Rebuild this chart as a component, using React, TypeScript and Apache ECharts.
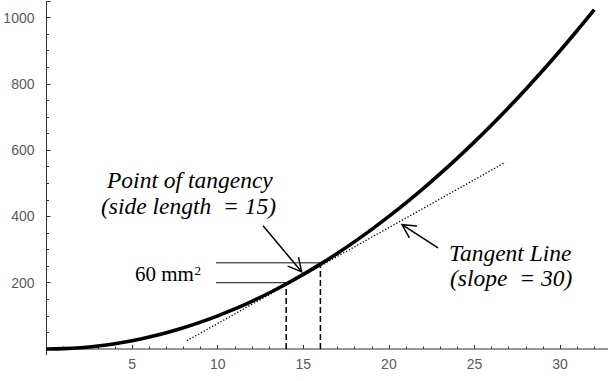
import React, { useEffect, useRef } from "react";
import * as echarts from "echarts";

// Side length of a square (x) and its area (y)
const sideLengths = [0, 1, 2, 3, 4, 5, 6, 7, 8, 9, 10, 11, 12, 13, 14, 15, 16, 17, 18, 19, 20, 21, 22, 23, 24, 25, 26, 27, 28, 29, 30, 31, 32];
const squareAreas = [0, 1, 4, 9, 16, 25, 36, 49, 64, 81, 100, 121, 144, 169, 196, 225, 256, 289, 324, 361, 400, 441, 484, 529, 576, 625, 676, 729, 784, 841, 900, 961, 1024];

// Tangent line at side length 15 (dotted), endpoints
const tangentX = [8.2, 26.8];
const tangentY = [25, 563];

// Dashed verticals at side lengths 14 and 16
const dropSides = [14, 16];
const dropAreas = [196, 256];

// Horizontal marker lines ("60 mm²" difference)
const levelStartX = 9.9;
const levelValues = [200, 260];
const levelEndX = [14, 16];

// Axis ticks / labels
const xMajorStep = 5;
const xMinorStep = 1;
const yMajorStep = 200;
const yMinorStep = 50;
const xTickLabels = [5, 10, 15, 20, 25, 30];
const yTickLabels = [200, 400, 600, 800, 1000];

// Axis line extents (data units)
const xAxisExtent = [-0.9, 32.8];
const yAxisExtent = [-18, 1050];

// Annotation arrows in data coordinates: [tail, tip]
const arrows = [
  { tail: [12.65, 372], tip: [14.9, 233] },
  { tail: [22.87, 305], tip: [20.77, 375] },
];

const AXIS_COLOR = "#333";
const LABEL_COLOR = "#5a5a5a";
const SERIF = '"Liberation Serif", "Times New Roman", serif';
const SANS = '"Liberation Sans", Arial, sans-serif';

export default function App() {
  const ref = useRef<HTMLDivElement>(null);

  useEffect(() => {
    document.body.style.margin = "0";
    if (!ref.current) return;
    const chart = echarts.init(ref.current, undefined, { renderer: "svg" });

    const xMin = 0;
    const xMax = xAxisExtent[1];
    const yMin = 0;
    const yMax = yAxisExtent[1];

    const baseX = {
      type: "value",
      min: xMin,
      max: xMax,
      position: "bottom",
      axisLine: { show: false, onZero: false },
      splitLine: { show: false },
    };
    const baseY = {
      type: "value",
      min: yMin,
      max: yMax,
      position: "left",
      axisLine: { show: false, onZero: false },
      splitLine: { show: false },
    };

    const lineSeries = (data: any[], style: any, z = 2) => ({
      type: "line",
      data,
      symbol: "none",
      silent: true,
      clip: false,
      z,
      lineStyle: style,
      xAxisIndex: 0,
      yAxisIndex: 0,
    });

    const xLabelFmt = (v: number) => (xTickLabels.includes(v) ? String(v) : "");
    const yLabelFmt = (v: number) => (yTickLabels.includes(v) ? String(v) : "");

    const option: any = {
      animation: false,
      grid: { left: 46.5, right: 0, top: 1, bottom: 32, outerBoundsMode: "none", containLabel: false },
      xAxis: [
        {
          ...baseX,
          interval: xMajorStep,
          axisTick: { show: true, inside: true, length: 4, lineStyle: { color: AXIS_COLOR, width: 1 } },
          axisLabel: {
            show: true,
            formatter: xLabelFmt,
            showMinLabel: true,
            showMaxLabel: true,
            hideOverlap: false,
            margin: 8,
            color: LABEL_COLOR,
            fontFamily: SANS,
            fontSize: 14,
          },
        },
        {
          ...baseX,
          interval: xMinorStep,
          axisTick: { show: true, inside: true, length: 2.5, lineStyle: { color: AXIS_COLOR, width: 1 } },
          axisLabel: { show: false },
        },
      ],
      yAxis: [
        {
          ...baseY,
          interval: yMajorStep,
          axisTick: { show: true, inside: true, length: 4, lineStyle: { color: AXIS_COLOR, width: 1 } },
          axisLabel: {
            show: true,
            formatter: yLabelFmt,
            hideOverlap: false,
            margin: 12,
            color: LABEL_COLOR,
            fontFamily: SANS,
            fontSize: 14,
          },
        },
        {
          ...baseY,
          interval: yMinorStep,
          axisTick: { show: true, inside: true, length: 2.5, lineStyle: { color: AXIS_COLOR, width: 1 } },
          axisLabel: { show: false },
        },
      ],
      series: [
        // axis lines (extended beyond origin)
        lineSeries([[xAxisExtent[0], 0], [xAxisExtent[1], 0]], { color: AXIS_COLOR, width: 1 }, 1),
        lineSeries([[0, yAxisExtent[0]], [0, yAxisExtent[1]]], { color: AXIS_COLOR, width: 1 }, 1),
        // tangent line
        lineSeries(tangentX.map((x, i) => [x, tangentY[i]]), { color: "#000", width: 1.3, type: [1.3, 1.9] }, 3),
        // dashed verticals
        ...dropSides.map((s, i) =>
          lineSeries([[s, 0], [s, dropAreas[i]]], { color: "#000", width: 1.5, type: [6, 3] }, 3)
        ),
        // horizontal levels
        ...levelValues.map((v, i) =>
          lineSeries([[levelStartX, v], [levelEndX[i], v]], { color: "#111", width: 1 }, 3)
        ),
        // area curve
        {
          ...lineSeries(sideLengths.map((x, i) => [x, squareAreas[i]]), { color: "#000", width: 3.6 }, 5),
          smooth: 0.33,
        },
      ],
    };

    chart.setOption(option);

    const toPx = (p: number[]) =>
      chart.convertToPixel({ xAxisIndex: 0, yAxisIndex: 0 }, p) as number[];

    const graphics: any[] = [];
    const headLen = 15;
    const headAng = (28 * Math.PI) / 180;
    arrows.forEach((a) => {
      const t = toPx(a.tail);
      const h = toPx(a.tip);
      graphics.push({
        type: "line",
        shape: { x1: t[0], y1: t[1], x2: h[0], y2: h[1] },
        style: { stroke: "#000", lineWidth: 1.5 },
        z: 10,
      });
      const dx = t[0] - h[0];
      const dy = t[1] - h[1];
      const len = Math.hypot(dx, dy);
      const ux = dx / len;
      const uy = dy / len;
      const rot = (ang: number) => [
        h[0] + headLen * (ux * Math.cos(ang) - uy * Math.sin(ang)),
        h[1] + headLen * (ux * Math.sin(ang) + uy * Math.cos(ang)),
      ];
      graphics.push({
        type: "polyline",
        shape: { points: [rot(headAng), [h[0], h[1]], rot(-headAng)] },
        style: { stroke: "#000", lineWidth: 1.5, fill: null },
        z: 10,
      });
    });

    const italic = (text: string, x: number, y: number) => ({
      type: "text",
      x,
      y,
      z: 10,
      style: {
        text,
        fontFamily: SERIF,
        fontSize: 23.5,
        fontStyle: "italic",
        fill: "#000",
        align: "left",
        verticalAlign: "middle",
      },
    });

    graphics.push(italic("Point of tangency", 107, 180));
    graphics.push(italic("(side length  = 15)", 101, 206));
    graphics.push(italic("Tangent Line", 449, 253));
    graphics.push(italic("(slope  = 30)", 450, 278));
    graphics.push({
      type: "text",
      x: 135,
      y: 274,
      z: 10,
      style: { text: "60 mm", fontFamily: SERIF, fontSize: 21, fill: "#000", align: "left", verticalAlign: "middle" },
    });
    graphics.push({
      type: "text",
      x: 194.5,
      y: 270,
      z: 10,
      style: { text: "2", fontFamily: SERIF, fontSize: 13, fill: "#000", align: "left", verticalAlign: "middle" },
    });

    chart.setOption({ graphic: graphics });

    return () => chart.dispose();
  }, []);

  return <div ref={ref} style={{ width: 608, height: 381 }} />;
}
